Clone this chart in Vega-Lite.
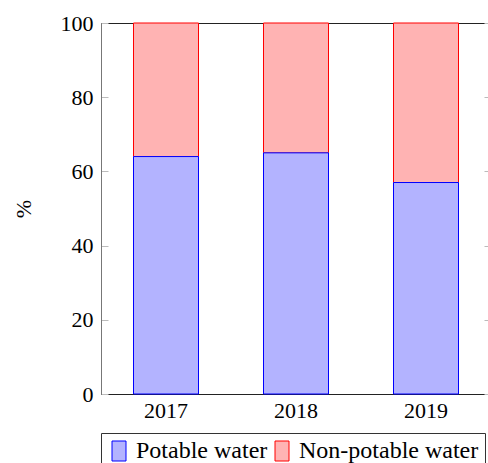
{
  "$schema": "https://vega.github.io/schema/vega-lite/v6.json",
  "width": 390,
  "height": 371,
  "padding": {"left": 12, "top": 12, "right": 0, "bottom": 0},
  "background": "white",
  "config": {
    "view": {"stroke": "#222", "strokeWidth": 1},
    "font": "Liberation Serif",
    "axis": {"labelFont": "Liberation Serif", "titleFont": "Liberation Serif", "labelColor": "#000", "titleColor": "#000", "grid": false, "domainColor": "#222"},
    "legend": {"labelFont": "Liberation Serif", "labelColor": "#000"}
  },
  "data": {
    "values": [
      {"year": "2017", "type": "Non-potable water", "value": 36},
      {"year": "2018", "type": "Non-potable water", "value": 35},
      {"year": "2019", "type": "Non-potable water", "value": 43},
      {"year": "2017", "type": "Potable water", "value": 64},
      {"year": "2018", "type": "Potable water", "value": 65},
      {"year": "2019", "type": "Potable water", "value": 57}
    ]
  },
  "encoding": {
    "x": {
      "field": "year", "type": "nominal",
      "scale": {"paddingInner": 0.5, "paddingOuter": 0.25},
      "axis": {"title": null, "ticks": false, "labelAngle": 0, "labelFontSize": 22, "labelPadding": 6, "domainColor": "#222"}
    }
  },
  "layer": [
    {
      "mark": {"type": "bar", "strokeWidth": 1},
      "encoding": {
        "y": {
          "field": "value", "type": "quantitative", "stack": "zero",
          "scale": {"domain": [0, 100], "nice": false},
          "axis": {"title": "%", "titleFontSize": 22, "titleFontWeight": "normal", "titlePadding": 25, "labelFontSize": 22, "values": [0, 20, 40, 60, 80, 100], "tickSize": -7, "tickColor": "#bbb", "labelPadding": 15, "domainColor": "#777"}
        },
        "color": {
          "field": "type", "type": "nominal",
          "scale": {"domain": ["Potable water", "Non-potable water"], "range": ["#b3b3ff", "#ffb3b3"]},
          "legend": {
            "title": null, "orient": "bottom", "direction": "horizontal",
            "labelFont": "Liberation Serif", "labelFontSize": 24, "labelOffset": 5, "columnPadding": 2, "labelLimit": 0,
            "symbolType": "M-0.7,-1L0.7,-1L0.7,1L-0.7,1Z", "symbolSize": 400, "symbolStrokeWidth": 1,
            "strokeColor": "#333", "padding": 6, "offset": 12
          }
        },
        "stroke": {
          "field": "type", "type": "nominal",
          "scale": {"domain": ["Potable water", "Non-potable water"], "range": ["#0000ff", "#ff0000"]},
          "legend": {
            "title": null, "orient": "bottom", "direction": "horizontal",
            "labelFont": "Liberation Serif", "labelFontSize": 24, "labelOffset": 5, "columnPadding": 2, "labelLimit": 0,
            "symbolType": "M-0.7,-1L0.7,-1L0.7,1L-0.7,1Z", "symbolSize": 400, "symbolStrokeWidth": 1,
            "strokeColor": "#333", "padding": 6, "offset": 12
          }
        },
        "order": {"field": "type", "sort": "descending"}
      }
    },
    {
      "mark": {"type": "point", "opacity": 0},
      "encoding": {
        "y": {
          "field": "value", "type": "quantitative",
          "scale": {"domain": [0, 100], "nice": false},
          "axis": {"orient": "right", "title": null, "labels": false, "values": [0, 20, 40, 60, 80, 100], "tickSize": -7, "tickColor": "#bbb", "domain": false}
        }
      }
    }
  ],
  "resolve": {"axis": {"y": "independent"}}
}
